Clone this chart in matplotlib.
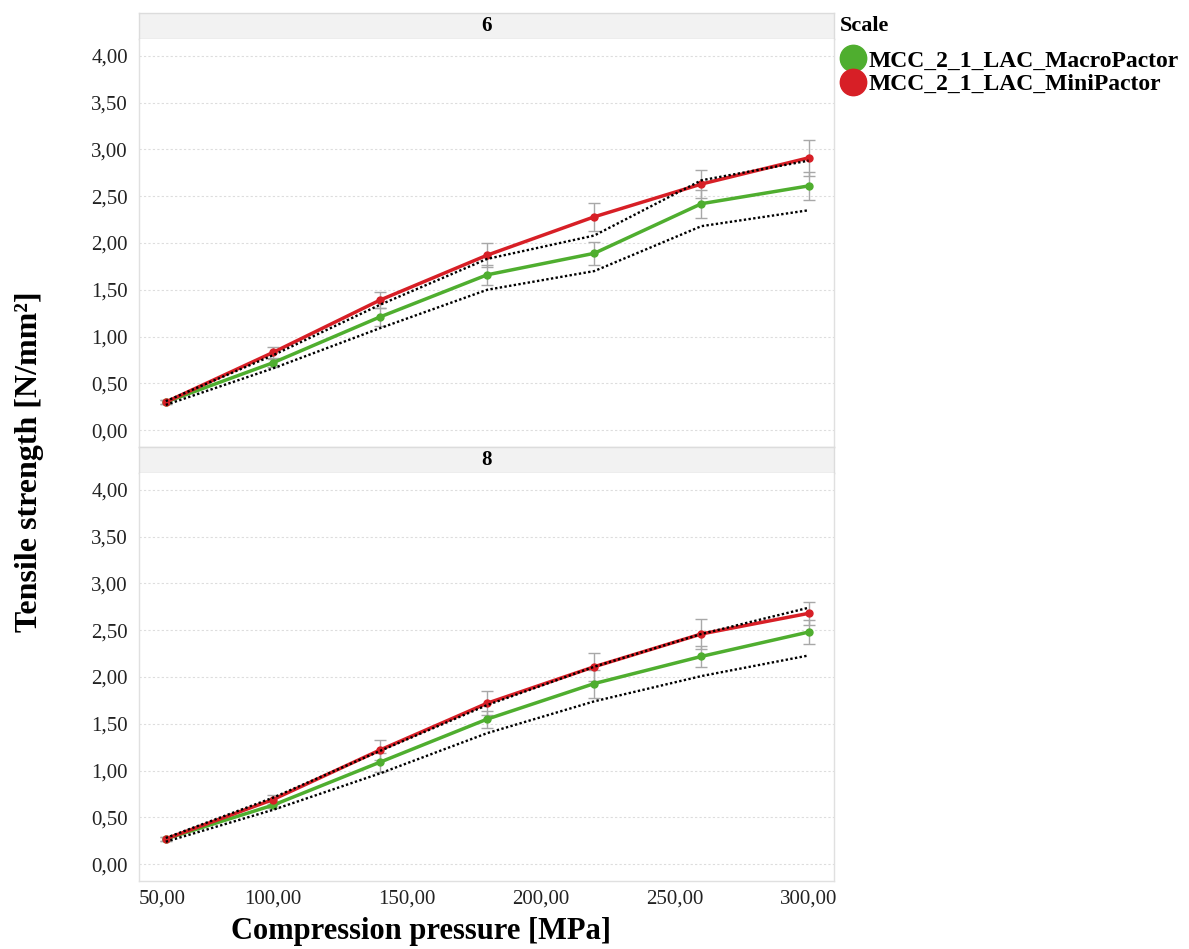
import matplotlib.pyplot as plt
from matplotlib.lines import Line2D
from matplotlib.ticker import FuncFormatter

plt.rc('font', family=['Liberation Serif', 'DejaVu Serif'])

pressure = [60, 100, 140, 180, 220, 260, 300]
panels = ['6', '8']

# scale 6
macro_6 = [0.30, 0.72, 1.21, 1.66, 1.89, 2.42, 2.61]
macro_6_err = [0.02, 0.04, 0.10, 0.11, 0.12, 0.15, 0.15]
mini_6 = [0.30, 0.83, 1.39, 1.87, 2.28, 2.63, 2.91]
mini_6_err = [0.02, 0.06, 0.085, 0.13, 0.15, 0.15, 0.19]
upper_6 = [0.31, 0.80, 1.34, 1.83, 2.08, 2.67, 2.88]
lower_6 = [0.27, 0.66, 1.09, 1.50, 1.70, 2.18, 2.35]

# scale 8
macro_8 = [0.27, 0.63, 1.09, 1.55, 1.93, 2.22, 2.48]
macro_8_err = [0.02, 0.03, 0.10, 0.09, 0.15, 0.11, 0.125]
mini_8 = [0.27, 0.69, 1.22, 1.72, 2.11, 2.46, 2.68]
mini_8_err = [0.02, 0.05, 0.11, 0.13, 0.15, 0.16, 0.125]
upper_8 = [0.28, 0.71, 1.21, 1.70, 2.11, 2.46, 2.74]
lower_8 = [0.24, 0.58, 0.97, 1.40, 1.74, 2.01, 2.23]

series = {
    '6': (macro_6, macro_6_err, mini_6, mini_6_err, upper_6, lower_6),
    '8': (macro_8, macro_8_err, mini_8, mini_8_err, upper_8, lower_8),
}

green = '#4fae2f'
red = '#d71f26'
names = ['MCC_2_1_LAC_MacroPactor', 'MCC_2_1_LAC_MiniPactor']

W, H = 1189, 949
fig = plt.figure(figsize=(W / 100, H / 100), dpi=100)

left = 139 / W
width = (834 - 139) / W
# pixel rows: header top, header bottom / plot top, plot bottom
rows = [(13, 39, 447), (447, 473, 881)]

comma = FuncFormatter(lambda v, p: f'{v:.2f}'.replace('.', ','))

for i, (name, (h0, h1, p1)) in enumerate(zip(panels, rows)):
    hax = fig.add_axes([left, 1 - h1 / H, width, (h1 - h0) / H])
    hax.set_facecolor('#f2f2f2')
    hax.set_xticks([])
    hax.set_yticks([])
    for s in hax.spines.values():
        s.set_color('#dcdcdc')
        s.set_linewidth(1)
    hax.text(0.5, 0.5, name, ha='center', va='center', fontsize=15,
             fontweight='bold', transform=hax.transAxes)

    ax = fig.add_axes([left, 1 - p1 / H, width, (p1 - h1) / H])
    macro, macro_err, mini, mini_err, upper, lower = series[name]

    ax.plot(pressure, upper, color='black', ls=(0, (1, 1)), lw=1.7, zorder=4)
    ax.plot(pressure, lower, color='black', ls=(0, (1, 1)), lw=1.7, zorder=4)
    ax.errorbar(pressure, macro, yerr=macro_err, fmt='none', ecolor='#a8a8a8',
                elinewidth=1, capsize=4, capthick=1, zorder=2)
    ax.errorbar(pressure, mini, yerr=mini_err, fmt='none', ecolor='#a8a8a8',
                elinewidth=1, capsize=4, capthick=1, zorder=2)
    ax.plot(pressure, macro, '-o', color=green, lw=2.5, ms=5, zorder=3)
    ax.plot(pressure, mini, '-o', color=red, lw=2.5, ms=5, zorder=3)

    ax.set_xlim(50, 309.5)
    ax.set_ylim(-0.18, 4.18)
    ax.set_yticks([0, 0.5, 1, 1.5, 2, 2.5, 3, 3.5, 4])
    ax.yaxis.set_major_formatter(comma)
    ax.grid(axis='y', color='#dddddd', ls=(0, (2, 2)), lw=0.8)
    ax.set_axisbelow(True)
    ax.tick_params(axis='both', length=0, labelsize=15, pad=8, colors='#222222')
    ax.spines['top'].set_visible(False)
    for s in ['left', 'right', 'bottom']:
        ax.spines[s].set_color('#e0e0e0')
        ax.spines[s].set_linewidth(1)

    if i == 0:
        ax.set_xticks([])
    else:
        ax.set_xticks([50, 100, 150, 200, 250, 300])
        ax.xaxis.set_major_formatter(comma)
        ax.tick_params(axis='x', pad=6)
        fig.canvas.draw()
        ax.get_xticklabels()[0].set_ha('left')

fig.text(421 / W, 1 - 932 / H, 'Compression pressure [MPa]', ha='center',
         va='center', fontsize=22, fontweight='bold')
fig.text(30 / W, 1 - 462 / H, 'Tensile strength [N/mm²]', ha='center',
         va='center', rotation=90, fontsize=23, fontweight='bold')

# legend
fig.text(840 / W, 1 - 26 / H, 'Scale', ha='left', va='center',
         fontsize=16, fontweight='bold')
handles = [Line2D([], [], ls='none', marker='o', ms=19, color=c) for c in [green, red]]
leg = fig.legend(handles, names, loc='upper left', bbox_to_anchor=(838 / W, 1 - 50 / H),
                 frameon=False, handletextpad=0.0, handlelength=1.3,
                 labelspacing=0.08, borderpad=0, borderaxespad=0,
                 prop={'weight': 'bold', 'size': 17})

fig.savefig('out.png', dpi=100)
